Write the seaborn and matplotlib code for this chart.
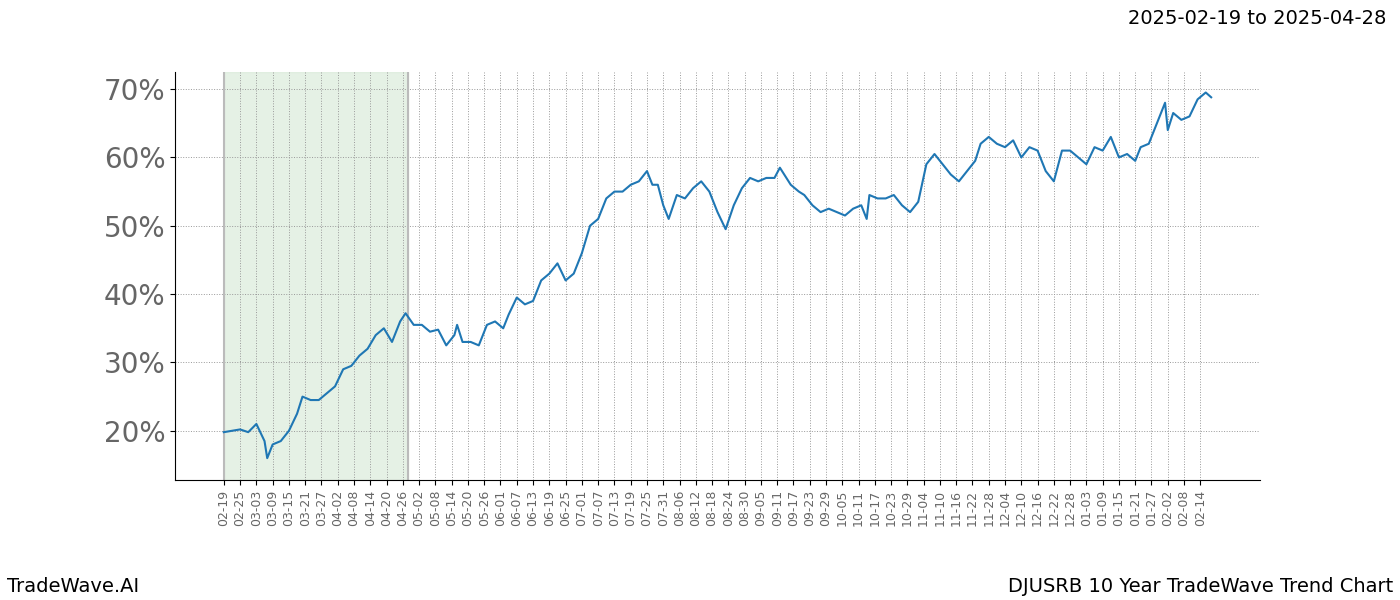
"""DJUSRB 10 year trend chart recreation."""

import matplotlib
matplotlib.use("Agg")
import matplotlib.pyplot as plt
import matplotlib.dates as mdates
import matplotlib.ticker as mticker
import pandas as pd
import seaborn as sns

START = "2025-02-19"
SPAN_END = "2025-04-28"

DAY_OFFSETS = [
    0, 3, 6, 9, 12, 15, 16, 18, 21, 24, 27, 29, 32, 35, 38, 41, 44, 47, 50, 53,
    56, 59, 62, 65, 67, 70, 73, 76, 79, 82, 85, 86, 88, 91, 94, 97, 100, 103, 105, 108,
    111, 114, 117, 120, 123, 126, 129, 132, 135, 138, 141, 144, 147, 150, 153, 156, 158, 160, 162, 164,
    167, 170, 173, 176, 179, 182, 185, 188, 191, 194, 197, 200, 203, 205, 209, 212, 214, 217, 220, 223,
    226, 229, 232, 235, 237, 238, 241, 244, 247, 250, 253, 256, 259, 262, 265, 268, 271, 274, 277, 279,
    282, 285, 288, 291, 294, 297, 300, 303, 306, 309, 312, 315, 318, 321, 324, 327, 330, 333, 336, 338,
    341, 344, 347, 348, 350, 353, 356, 359, 362, 364,
]
VALUES = [
    19.8, 20.0, 20.2, 19.8, 21.0, 18.5, 16.0, 18.0, 18.5, 20.0, 22.5, 25.0, 24.5, 24.5, 25.5, 26.5, 29.0, 29.5, 31.0, 32.0,
    34.0, 35.0, 33.0, 36.0, 37.2, 35.5, 35.5, 34.5, 34.8, 32.5, 34.0, 35.5, 33.0, 33.0, 32.5, 35.5, 36.0, 35.0, 37.0, 39.5,
    38.5, 39.0, 42.0, 43.0, 44.5, 42.0, 43.0, 46.0, 50.0, 51.0, 54.0, 55.0, 55.0, 56.0, 56.5, 58.0, 56.0, 56.0, 53.0, 51.0,
    54.5, 54.0, 55.5, 56.5, 55.0, 52.0, 49.5, 53.0, 55.5, 57.0, 56.5, 57.0, 57.0, 58.5, 56.0, 55.0, 54.5, 53.0, 52.0, 52.5,
    52.0, 51.5, 52.5, 53.0, 51.0, 54.5, 54.0, 54.0, 54.5, 53.0, 52.0, 53.5, 59.0, 60.5, 59.0, 57.5, 56.5, 58.0, 59.5, 62.0,
    63.0, 62.0, 61.5, 62.5, 60.0, 61.5, 61.0, 58.0, 56.5, 61.0, 61.0, 60.0, 59.0, 61.5, 61.0, 63.0, 60.0, 60.5, 59.5, 61.5,
    62.0, 65.0, 68.0, 64.0, 66.5, 65.5, 66.0, 68.5, 69.5, 68.8,
]
Y_TICKS = [20, 30, 40, 50, 60, 70]

start = pd.Timestamp(START)
df = pd.DataFrame({
    "date": start + pd.to_timedelta(DAY_OFFSETS, unit="D"),
    "value": VALUES,
})
tick_dates = pd.date_range(start, "2026-02-14", freq="6D")

fig = plt.figure(figsize=(14, 6), dpi=100)
ax = fig.add_axes([0.125, 0.2, 0.775, 0.68])

ax.axvspan(start, pd.Timestamp(SPAN_END), color="#d5e8d4", alpha=0.6, zorder=0)
for edge in (start, pd.Timestamp(SPAN_END)):
    ax.axvline(edge, color="#bbbbbb", linewidth=1.5, zorder=1)

sns.lineplot(data=df, x="date", y="value", color="#1f77b4", linewidth=1.5, ax=ax, zorder=3)

ax.set_xlim(start - pd.Timedelta(days=18), start + pd.Timedelta(days=382))
ax.set_ylim(12.8, 72.5)
ax.set_xticks(tick_dates)
ax.xaxis.set_major_formatter(mdates.DateFormatter("%m-%d"))
ax.set_yticks(Y_TICKS)
ax.yaxis.set_major_formatter(mticker.FuncFormatter(lambda v, _: f"{v:.0f}%"))
plt.setp(ax.get_xticklabels(), rotation=90, fontsize=9, color="#666666")
plt.setp(ax.get_yticklabels(), fontsize=20, color="#666666")
ax.grid(True, linestyle=":", color="#999999", linewidth=0.7)
ax.set_axisbelow(True)
ax.set_xlabel("")
ax.set_ylabel("")
ax.spines["top"].set_visible(False)
ax.spines["right"].set_visible(False)

fig.text(0.99, 0.97, "2025-02-19 to 2025-04-28", ha="right", va="center", fontsize=14)
fig.text(0.005, 0.022, "TradeWave.AI", ha="left", va="center", fontsize=14)
fig.text(0.995, 0.022, "DJUSRB 10 Year TradeWave Trend Chart", ha="right", va="center", fontsize=14)

fig.savefig("out.png", dpi=100)
plt.close(fig)
